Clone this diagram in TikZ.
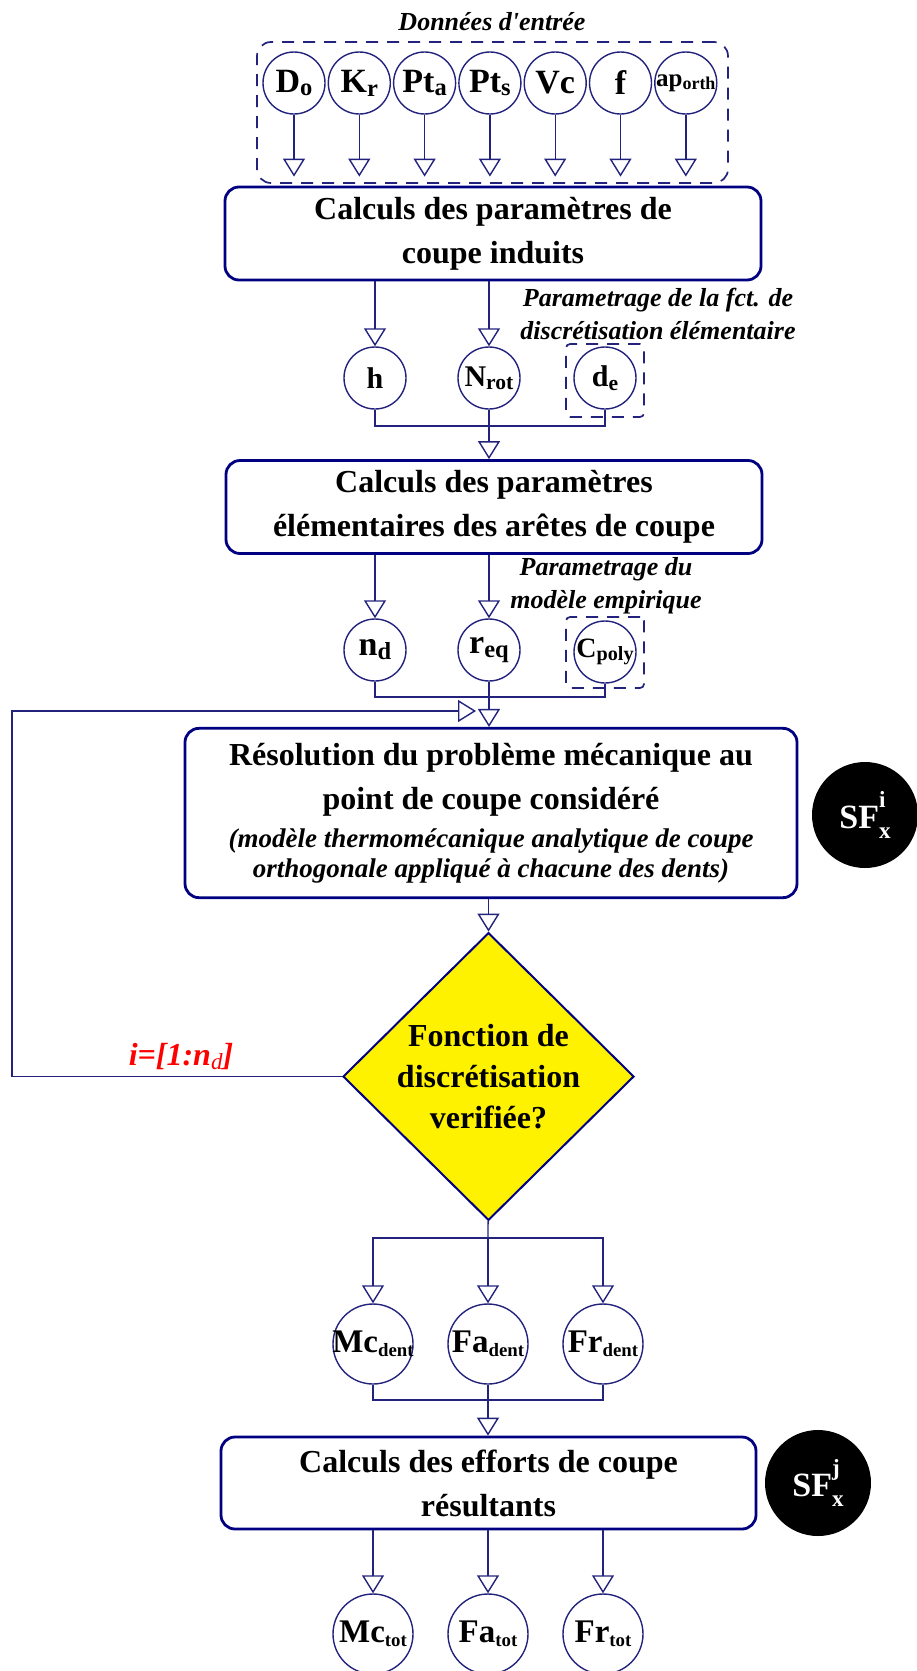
\documentclass[tikz,border=0pt]{standalone}
\usepackage{fontspec}
\setmainfont{Liberation Serif}
\usepackage{xcolor}
\usepackage{graphicx}
\usetikzlibrary{shapes.geometric, arrows.meta, positioning}

\definecolor{navy}{RGB}{0,0,128}
\definecolor{wirec}{RGB}{35,35,125}
\newcommand{\vn}[1]{\makebox[0pt]{#1}}
\newcommand{\ix}[1]{\raisebox{-0.25ex}{\scalebox{0.72}{#1}}}
\newcommand{\iy}[1]{\raisebox{-0.25ex}{\scalebox{0.57}{#1}}}
\newcommand{\sfix}[2]{\rlap{\raisebox{0.62em}{\scalebox{0.68}{#1}}}\raisebox{-0.3em}{\scalebox{0.68}{#2}}}

\begin{document}
\begin{tikzpicture}[
  x=0.5pt, y=-0.5pt,
  stage/.style={rectangle, rounded corners=7pt, draw=navy, line width=1.4pt,
                minimum width=268pt, minimum height=46.5pt, align=center,
                font=\fontsize{16}{22}\selectfont\bfseries},
  var/.style={circle, draw=wirec, line width=0.7pt, inner sep=0pt,
              minimum size=31pt, font=\fontsize{15}{15}\selectfont\bfseries},
  big/.style={var, minimum size=40pt, font=\fontsize{16.5}{16.5}\selectfont\bfseries},
  sf/.style={circle, fill=black, inner sep=0pt, minimum size=53pt, text=white,
             font=\fontsize{17}{17}\selectfont\bfseries},
  dashbox/.style={draw=wirec, line width=0.85pt, dash pattern=on 6pt off 4.5pt},
  note/.style={align=center, font=\fontsize{13}{16.5}\selectfont\bfseries\itshape},
  decision/.style={diamond, draw=navy, line width=1pt, fill=yellow, inner sep=0pt,
                   minimum width=145.5pt, minimum height=143.5pt, align=center,
                   font=\fontsize{16}{20.5}\selectfont\bfseries},
  link/.style={draw=wirec, line width=0.7pt},
  arrow/.style={link, -{Triangle[open, length=9pt, width=11pt]}}
]
  \useasboundingbox (0,0) rectangle (916,1671);

  \node (title)  [note] at (492,22) {Données d\textquotesingle entrée};
  \node (inputs) [dashbox, rounded corners=7pt, minimum width=235.5pt, minimum height=70.5pt] at (492.5,112.5) {};
  \foreach \n/\t [count=\i from 0] in {do/D\ix{o}, kr/K\ix{r}, pta/Pt\ix{a}, pts/Pt\ix{s}, vc/Vc, f/f, ap/{\fontsize{12.5}{12.5}\selectfont ap\ix{orth}}}
    \node (\n) [var, font=\fontsize{17}{17}\selectfont\bfseries] at (294+65.3*\i,83) {\vn{\t}};

  \node (induits) [stage] at (493,233.5) {Calculs des paramètres de\\coupe induits};
  \foreach \n in {do,kr,pta,pts,vc,f,ap}
    \draw[arrow, shorten >=4.5pt] (\n) -- (\n |- induits.north);

  \node (h)       [var] at (375,378) {\vn{h}};
  \node (nrot)    [var] at (489,378) {\vn{N\ix{rot}}};
  \node (de)      [var] at (605,378) {\vn{d\ix{e}}};
  \node (debox)   [dashbox, rounded corners=2pt, minimum width=39pt, minimum height=36.5pt] at (605,380.5) {};
  \node (fctnote) [note] at (658,313.5) {Parametrage de la fct. de\\discrétisation élémentaire};
  \foreach \n in {h,nrot}
    \draw[arrow] (\n |- induits.south) -- (\n);
  \coordinate (join1) at (489,426);
  \draw[link] (h) |- (join1) -| (de);

  \node (elem) [stage] at (494,507) {Calculs des paramètres\\élémentaires des arêtes de coupe};
  \draw[arrow] (nrot) -- (nrot |- elem.north);

  \node (nd)      [var, font=\fontsize{17}{17}\selectfont\bfseries] at (375,650) {\vn{n\ix{d}}};
  \node (req)     [var, font=\fontsize{17}{17}\selectfont\bfseries] at (489,650) {\vn{r\ix{eq}}};
  \node (cpoly)   [var, font=\fontsize{14}{14}\selectfont\bfseries] at (605,652) {\vn{C\ix{poly}}};
  \node (cpbox)   [dashbox, rounded corners=2pt, minimum width=39pt, minimum height=35.5pt] at (605,652.5) {};
  \node (empnote) [note] at (606,585.5) {Parametrage du\\modèle empirique};
  \foreach \n in {nd,req}
    \draw[arrow] (\n |- elem.south) -- (\n);
  \coordinate (join2) at (489,697);
  \draw[link] (nd) |- (join2) -| (cpoly);

  \node (reso) [stage, minimum width=306pt, minimum height=80pt] at (491,813)
    {\begin{tabular}{@{}c@{}}Résolution du problème mécanique au\\ point de coupe considéré\\[-3pt]
     \fontsize{13.5}{15}\selectfont\itshape (modèle thermomécanique analytique de coupe\\[-7pt]
     \fontsize{13.5}{15}\selectfont\itshape orthogonale appliqué à chacune des dents)\end{tabular}};
  \draw[arrow] (req) -- (req |- reso.north);
  \node (sfi) [sf] at (865,815) {SF\sfix{i}{x}};

  \node (verif) [decision] at (488.5,1076.5) {Fonction de\\discrétisation\\verifiée?};
  \draw[arrow] (reso.south -| verif) -- (verif);
  \coordinate (loopc) at (12,711);
  \coordinate (loopend) at (476,711);
  \draw[arrow] (verif.west) -| (loopc) -- (loopend);
  \node (iter) [font=\fontsize{16}{16}\selectfont\bfseries\itshape, text=red] at (181,1057) {i=[1:n\ix{\mdseries d}]};

  \node (mcd) [big] at (373,1344) {\vn{Mc\iy{dent}}};
  \node (fad) [big] at (488,1344) {\vn{Fa\iy{dent}}};
  \node (frd) [big] at (603,1344) {\vn{Fr\iy{dent}}};
  \coordinate (split) at (488,1238);
  \draw[link] (verif) -- (split);
  \draw[arrow] (split) -| (mcd);
  \draw[arrow] (split) -| (frd);
  \draw[arrow] (split) -- (fad);
  \coordinate (join3) at (488,1400);
  \draw[link] (mcd) |- (join3) -| (frd);

  \node (efforts) [stage, minimum width=267.5pt, minimum height=46pt] at (488.5,1483) {Calculs des efforts de coupe\\résultants};
  \draw[arrow] (fad) -- (fad |- efforts.north);
  \node (sfj) [sf] at (818,1483) {SF\sfix{j}{x}};

  \node (mct) [big, font=\fontsize{16.5}{16.5}\selectfont\bfseries] at (373,1634) {\vn{Mc\iy{tot}}};
  \node (fat) [big, font=\fontsize{16.5}{16.5}\selectfont\bfseries] at (488,1634) {\vn{Fa\iy{tot}}};
  \node (frt) [big, font=\fontsize{16.5}{16.5}\selectfont\bfseries] at (603,1634) {\vn{Fr\iy{tot}}};
  \foreach \n in {mct,fat,frt}
    \draw[arrow] (\n |- efforts.south) -- (\n);
\end{tikzpicture}
\end{document}
